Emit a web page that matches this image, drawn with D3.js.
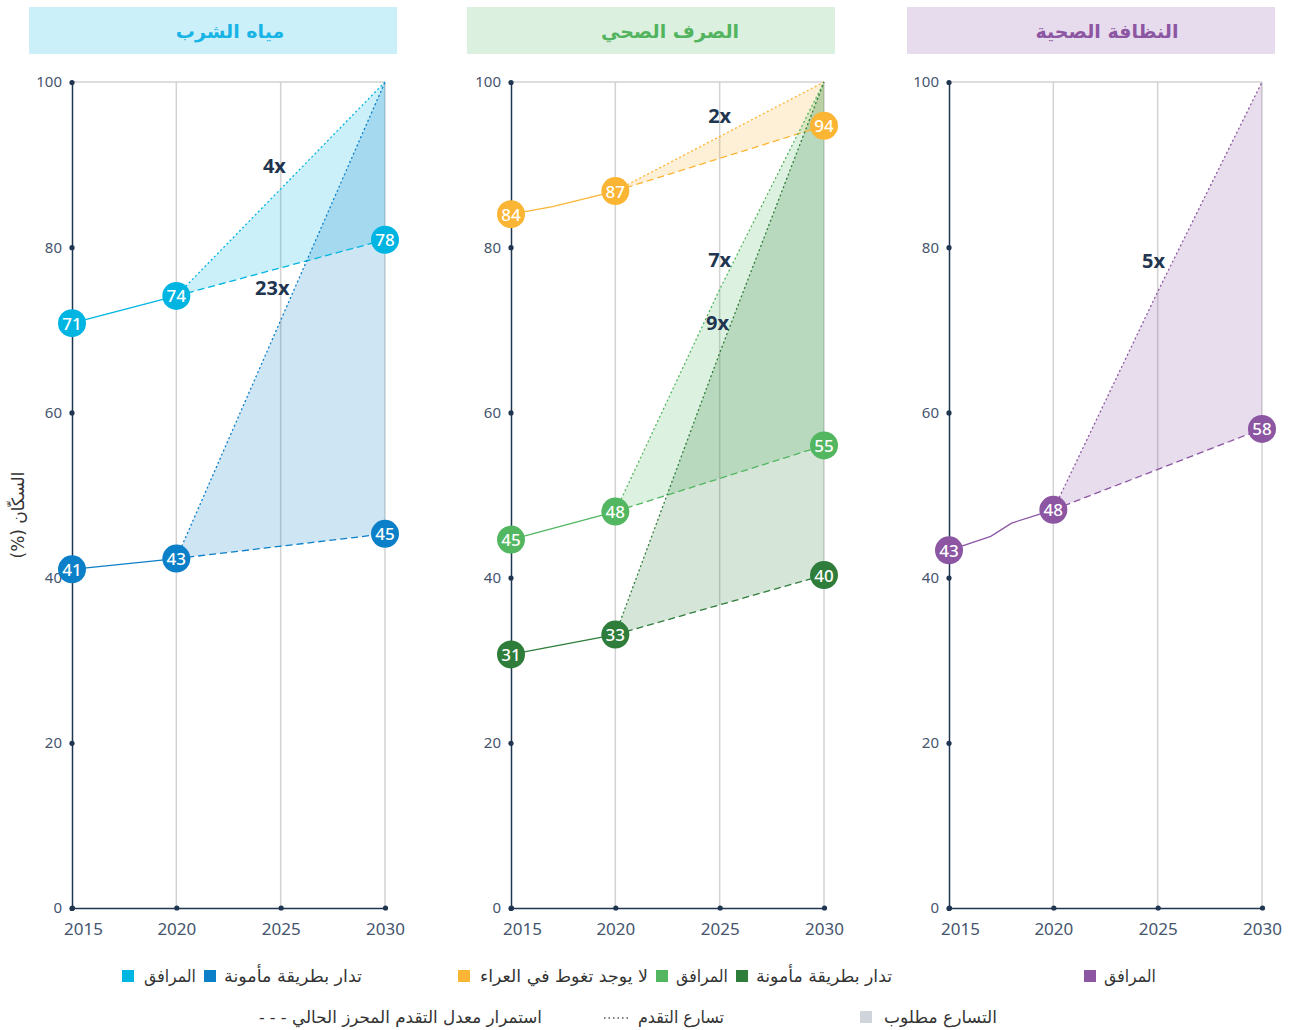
<!DOCTYPE html>
<html><head><meta charset="utf-8">
<script src="https://cdn.jsdelivr.net/npm/d3@7"></script>
<style>
body{margin:0;background:#fff;}
svg{display:block;}
</style></head>
<body>
<svg id="chart" width="1293" height="1030"></svg>
<script>
// ---------- DATA ----------
const xTickYears = [2015, 2020, 2025, 2030];
const yTickValues = [0, 20, 40, 60, 80, 100];
const panelTitles = ["مياه الشرب", "الصرف الصحي", "النظافة الصحية"];
const yAxisTitle = "السكّان (%)";

// Drinking water (plotted positions)
const waterBasicHistYears = [2015, 2020];
const waterBasicHist = [70.8, 74.1];
const waterBasicCurrentYears = [2020, 2030];
const waterBasicCurrent = [74.1, 80.9];
const waterBasicAccelYears = [2020, 2030];
const waterBasicAccel = [74.1, 100];

const waterSafeHistYears = [2015, 2020];
const waterSafeHist = [41.0, 42.3];
const waterSafeCurrentYears = [2020, 2030];
const waterSafeCurrent = [42.3, 45.3];
const waterSafeAccelYears = [2020, 2030];
const waterSafeAccel = [42.3, 100];

// Sanitation
const odfHistYears = [2015, 2017, 2020];
const odfHist = [84.0, 84.9, 86.8];
const odfCurrentYears = [2020, 2030];
const odfCurrent = [86.8, 94.7];
const odfAccelYears = [2020, 2030];
const odfAccel = [86.8, 100];

const sanBasicHistYears = [2015, 2020];
const sanBasicHist = [44.6, 48.0];
const sanBasicCurrentYears = [2020, 2030];
const sanBasicCurrent = [48.0, 56.0];
const sanBasicAccelYears = [2020, 2025, 2030];
const sanBasicAccel = [48.0, 74.9, 100];

const sanSafeHistYears = [2015, 2020];
const sanSafeHist = [30.7, 33.1];
const sanSafeCurrentYears = [2020, 2030];
const sanSafeCurrent = [33.1, 40.3];
const sanSafeAccelYears = [2020, 2025, 2030];
const sanSafeAccel = [33.1, 67.2, 100];

// Hygiene
const hygHistYears = [2015, 2017, 2018, 2020];
const hygHist = [43.3, 45.0, 46.6, 48.2];
const hygCurrentYears = [2020, 2030];
const hygCurrent = [48.2, 58.0];
const hygAccelYears = [2020, 2025, 2030];
const hygAccel = [48.2, 74.6, 100];

// Labelled points: years, plotted positions, displayed numbers
const labelYears = [2015, 2020, 2030];
const waterBasicLabelPos = [70.8, 74.1, 80.9];
const waterBasicLabels = [71, 74, 78];
const waterSafeLabelPos = [41.0, 42.3, 45.3];
const waterSafeLabels = [41, 43, 45];
const odfLabelPos = [84.0, 86.8, 94.7];
const odfLabels = [84, 87, 94];
const sanBasicLabelPos = [44.6, 48.0, 56.0];
const sanBasicLabels = [45, 48, 55];
const sanSafeLabelPos = [30.7, 33.1, 40.3];
const sanSafeLabels = [31, 33, 40];
const hygLabelPos = [43.3, 48.2, 58.0];
const hygLabels = [43, 48, 58];

// Multiplier annotations
const multPanels = [0, 0, 1, 1, 1, 2];
const multTexts = ["4x", "23x", "2x", "7x", "9x", "5x"];
const multYears = [2024.7, 2024.6, 2025.0, 2025.0, 2024.9, 2024.8];
const multValues = [89.9, 75.1, 95.9, 78.5, 70.9, 78.4];

// Legend labels
const legendBasic = "المرافق";
const legendSafe = "تدار بطريقة مأمونة";
const legendODF = "لا يوجد تغوط في العراء";
const legendCurrent = "استمرار معدل التقدم المحرز الحالي";
const legendAccel = "تسارع التقدم";
const legendRequired = "التسارع مطلوب";

// ---------- STYLE / LAYOUT ----------
const C = {
  wBasic: "#00b5e2", wSafe: "#0b7fc7",
  odf: "#fbb534", sBasic: "#52b760", sSafe: "#2e7d3a",
  hyg: "#8c56a3",
  axis: "#1f3550", tick: "#45556e", grid: "#d2d2d2"
};
const panels = [
  {x0: 72, x1: 385, box: [29, 397], titleX: 230, boxFill: "#ccf0fa", titleColor: "#19b4e6"},
  {x0: 511, x1: 824, box: [467, 835], titleX: 670, boxFill: "#dcf0e0", titleColor: "#52b45f"},
  {x0: 949, x1: 1262, box: [907, 1275], titleX: 1107, boxFill: "#e7dced", titleColor: "#8c56a3"}
];
const yTop = 82, yBot = 908;
const numFont = "'Noto Sans', Roboto, sans-serif";
const arFont = "'DejaVu Sans', 'Noto Sans', sans-serif";

const svg = d3.select("#chart");
const y = d3.scaleLinear().domain([0, 100]).range([yBot, yTop]);

const zip = (xs, vs) => xs.map((d, i) => ({year: d, value: vs[i]}));
const zipLab = (pos, txt) => labelYears.map((d, i) => ({year: d, value: pos[i], text: txt[i]}));

const panelSeries = [
  [
    {color: C.wBasic, hist: zip(waterBasicHistYears, waterBasicHist), cur: zip(waterBasicCurrentYears, waterBasicCurrent), acc: zip(waterBasicAccelYears, waterBasicAccel), lab: zipLab(waterBasicLabelPos, waterBasicLabels)},
    {color: C.wSafe, hist: zip(waterSafeHistYears, waterSafeHist), cur: zip(waterSafeCurrentYears, waterSafeCurrent), acc: zip(waterSafeAccelYears, waterSafeAccel), lab: zipLab(waterSafeLabelPos, waterSafeLabels)}
  ],
  [
    {color: C.odf, hist: zip(odfHistYears, odfHist), cur: zip(odfCurrentYears, odfCurrent), acc: zip(odfAccelYears, odfAccel), lab: zipLab(odfLabelPos, odfLabels)},
    {color: C.sBasic, hist: zip(sanBasicHistYears, sanBasicHist), cur: zip(sanBasicCurrentYears, sanBasicCurrent), acc: zip(sanBasicAccelYears, sanBasicAccel), lab: zipLab(sanBasicLabelPos, sanBasicLabels)},
    {color: C.sSafe, hist: zip(sanSafeHistYears, sanSafeHist), cur: zip(sanSafeCurrentYears, sanSafeCurrent), acc: zip(sanSafeAccelYears, sanSafeAccel), lab: zipLab(sanSafeLabelPos, sanSafeLabels)}
  ],
  [
    {color: C.hyg, hist: zip(hygHistYears, hygHist), cur: zip(hygCurrentYears, hygCurrent), acc: zip(hygAccelYears, hygAccel), lab: zipLab(hygLabelPos, hygLabels)}
  ]
];

panels.forEach((p, pi) => {
  const x = d3.scaleLinear().domain([2015, 2030]).range([p.x0, p.x1]);
  const g = svg.append("g");

  // title box
  g.append("rect").attr("x", p.box[0]).attr("y", 7).attr("width", p.box[1] - p.box[0]).attr("height", 47).attr("fill", p.boxFill);
  g.append("text").attr("x", p.titleX).attr("y", 31)
    .attr("text-anchor", "middle").attr("dominant-baseline", "central")
    .attr("font-family", arFont).attr("font-weight", "bold").attr("font-size", 19)
    .attr("fill", p.titleColor).text(panelTitles[pi]);

  // grid
  g.selectAll(".vg").data(xTickYears.slice(1)).enter().append("line")
    .attr("x1", d => x(d)).attr("x2", d => x(d)).attr("y1", y(100)).attr("y2", y(0))
    .attr("stroke", C.grid).attr("stroke-width", 1.5);
  g.append("line").attr("x1", x(2015)).attr("x2", x(2030)).attr("y1", y(100)).attr("y2", y(100))
    .attr("stroke", C.grid).attr("stroke-width", 1.5);

  const series = panelSeries[pi];
  const line = d3.line().x(d => x(d.year)).y(d => y(d.value));

  // fills between accelerated and current trajectories
  series.forEach(s => {
    const poly = s.acc.concat(s.cur.slice().reverse());
    g.append("path").attr("d", line(poly) + "Z").attr("fill", s.color).attr("fill-opacity", 0.2).attr("stroke", "none");
  });

  // axes
  const yAxis = d3.axisLeft(y).tickValues(yTickValues).tickSize(0).tickPadding(10);
  const ya = g.append("g").attr("transform", `translate(${p.x0},0)`).call(yAxis);
  ya.select(".domain").attr("stroke", C.axis).attr("stroke-width", 1.5);
  ya.selectAll("text").attr("font-family", numFont).attr("font-size", 15).attr("fill", C.tick);
  ya.selectAll(".tick").append("circle").attr("r", 2.6).attr("fill", C.axis);

  const xAxis = d3.axisBottom(x).tickValues(xTickYears).tickFormat(d3.format("d")).tickSize(0).tickPadding(15);
  const xa = g.append("g").attr("transform", `translate(0,${yBot})`).call(xAxis);
  xa.select(".domain").attr("stroke", C.axis).attr("stroke-width", 1.5);
  xa.selectAll("text").attr("font-family", numFont).attr("font-size", 17).attr("fill", C.tick)
    .attr("dx", (d, i) => i === 0 ? 11 : 0);
  xa.selectAll(".tick").append("circle").attr("r", 2.6).attr("fill", C.axis);

  // lines
  series.forEach(s => {
    g.append("path").attr("d", line(s.hist)).attr("fill", "none").attr("stroke", s.color).attr("stroke-width", 1.3);
    g.append("path").attr("d", line(s.cur)).attr("fill", "none").attr("stroke", s.color).attr("stroke-width", 1.3).attr("stroke-dasharray", "7,4");
    g.append("path").attr("d", line(s.acc)).attr("fill", "none").attr("stroke", s.color).attr("stroke-width", 1.3).attr("stroke-dasharray", "2,2.5");
  });

  // multiplier annotations
  multTexts.forEach((t, i) => {
    if (multPanels[i] !== pi) return;
    g.append("text").attr("x", x(multYears[i])).attr("y", y(multValues[i]))
      .attr("text-anchor", "middle").attr("dominant-baseline", "central")
      .attr("font-family", numFont).attr("font-weight", "bold").attr("font-size", 20)
      .attr("fill", C.axis).text(t);
  });

  // labelled points
  series.forEach(s => {
    const pg = g.selectAll(null).data(s.lab).enter().append("g")
      .attr("transform", d => `translate(${x(d.year)},${y(d.value)})`);
    pg.append("circle").attr("r", 14).attr("fill", s.color);
    pg.append("text").attr("text-anchor", "middle").attr("dominant-baseline", "central")
      .attr("font-family", numFont).attr("font-weight", 500).attr("font-size", 17)
      .attr("fill", "#fff").text(d => d.text);
  });
});

// y-axis title (RTL)
svg.append("text").attr("transform", "translate(18,515) rotate(-90)")
  .attr("text-anchor", "middle").attr("dominant-baseline", "central")
  .style("direction", "rtl").style("unicode-bidi", "embed")
  .attr("font-family", arFont).attr("font-size", 17).attr("fill", "#333").text(yAxisTitle);

// legend row 1
const legRow1 = [
  {sq: 122, tx: 144, w: 52, color: C.wBasic, text: legendBasic},
  {sq: 204, tx: 224, w: 138, color: C.wSafe, text: legendSafe},
  {sq: 458, tx: 480, w: 168, color: C.odf, text: legendODF},
  {sq: 656, tx: 676, w: 52, color: C.sBasic, text: legendBasic},
  {sq: 736, tx: 756, w: 136, color: C.sSafe, text: legendSafe},
  {sq: 1084, tx: 1104, w: 52, color: C.hyg, text: legendBasic}
];
const lg = svg.append("g");
const legText = (xx, yy, w, t) => lg.append("text").attr("x", xx).attr("y", yy).attr("dominant-baseline", "central")
  .attr("font-family", arFont).attr("font-size", 17).attr("fill", "#333")
  .attr("textLength", w).attr("lengthAdjust", "spacingAndGlyphs").text(t);
legRow1.forEach(l => {
  lg.append("rect").attr("x", l.sq).attr("y", 970).attr("width", 12).attr("height", 12).attr("fill", l.color);
  legText(l.tx, 976, l.w, l.text);
});
// legend row 2
lg.append("text").attr("x", 259).attr("y", 1017).attr("dominant-baseline", "central")
  .attr("font-family", arFont).attr("font-size", 16).attr("fill", "#333").text("- - -");
legText(292, 1017, 250, legendCurrent);
lg.append("line").attr("x1", 604).attr("x2", 631).attr("y1", 1018).attr("y2", 1018)
  .attr("stroke", "#555").attr("stroke-width", 1.5).attr("stroke-dasharray", "1.5,3");
legText(638, 1017, 86, legendAccel);
lg.append("rect").attr("x", 860).attr("y", 1011).attr("width", 12).attr("height", 12).attr("fill", "#d0d5dc");
legText(884, 1017, 113, legendRequired);
</script>
</body></html>
